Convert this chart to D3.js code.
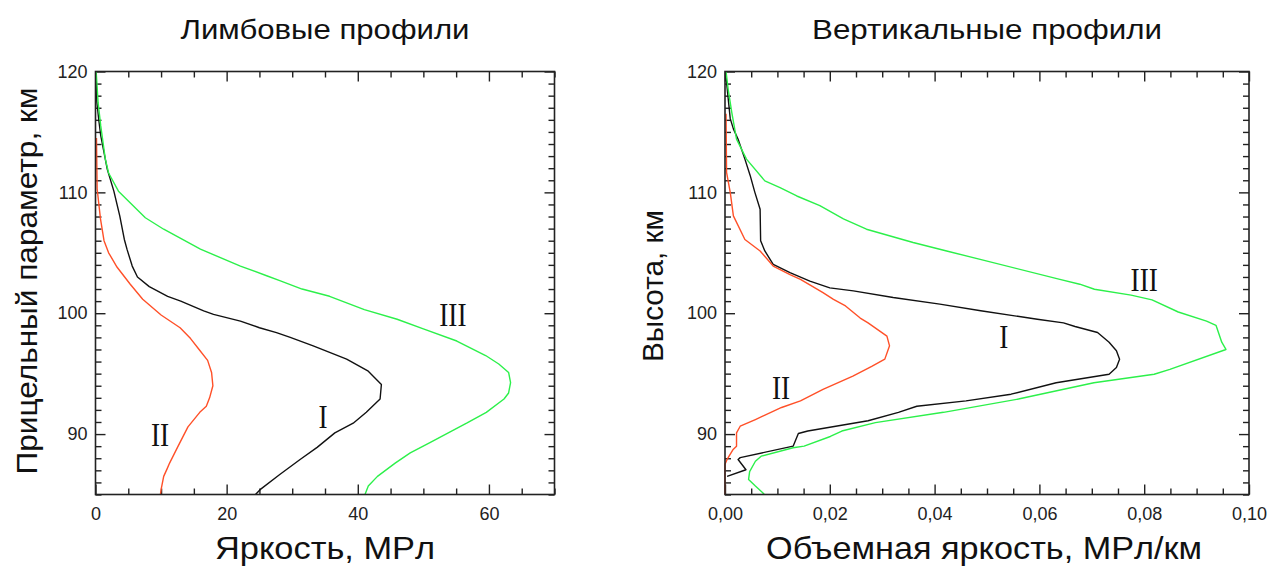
<!DOCTYPE html>
<html><head><meta charset="utf-8">
<script src="https://cdn.jsdelivr.net/npm/d3@7"></script>
<style>
html,body{margin:0;padding:0;background:#fff;}
svg{display:block;}
</style></head><body>
<svg id="chart" width="1270" height="566"></svg>
<script>
// ---------- data ----------
const panelTitles = ["Лимбовые профили", "Вертикальные профили"];
const xAxisTitles = ["Яркость, МРл", "Объемная яркость, МРл/км"];
const yAxisTitles = ["Прицельный параметр, км", "Высота, км"];
const seriesNames = ["I", "II", "III"];

const altDomain = [85, 120];
const altTicks = [90, 100, 110, 120];
const limbDomain = [0, 70];
const limbTicks = [0, 20, 40, 60];
const vertDomain = [0, 0.1];
const vertTicks = [0, 0.02, 0.04, 0.06, 0.08, 0.10];

// limb profiles: [altitude km, brightness MR]
const limbI = [[119.5,0.1],[117.5,0.2],[116.0,0.5],[114.7,0.8],[111.9,1.8],[110.1,2.8],[108.05,3.7],[106.1,4.4],[105.3,4.8],[103.9,5.6],[103.0,6.4],[102.2,8.2],[101.4,11.0],[101.0,13.0],[100.2,16.5],[99.9,18.0],[99.35,22.1],[98.8,25.0],[98.4,27.6],[98.0,29.7],[97.3,33.2],[96.2,38.3],[95.2,41.6],[94.1,43.6],[92.9,43.4],[91.8,41.3],[90.9,39.3],[90.1,36.5],[88.9,33.8],[87.9,31.2],[86.65,28.1],[85.4,25.1],[85.0,24.4]];
const limbII = [[114.5,0.15],[110.3,0.25],[107.8,0.76],[106.0,1.3],[105.0,2.0],[103.8,3.3],[102.4,5.3],[101.15,7.2],[99.85,10.0],[98.8,12.9],[97.9,14.5],[97.0,15.8],[96.1,17.1],[95.1,17.7],[94.0,17.9],[93.0,17.4],[92.3,16.9],[91.8,15.9],[90.6,14.1],[89.0,12.6],[87.6,11.3],[87.1,10.9],[86.5,10.4],[85.4,10.0],[85.0,9.9]];
const limbIII = [[120.0,0.1],[117.4,0.4],[115.5,0.8],[112.75,1.5],[111.6,2.0],[110.1,3.5],[107.9,7.6],[106.95,10.4],[105.3,16.0],[103.9,22.1],[103.1,26.1],[102.7,28.1],[102.0,31.5],[101.4,35.7],[100.3,41.0],[99.5,46.0],[98.7,50.0],[97.7,55.1],[96.5,59.5],[95.8,61.5],[95.1,63.0],[94.25,63.3],[93.4,63.0],[92.9,62.3],[91.8,59.6],[90.9,56.6],[90.25,54.3],[89.3,51.0],[88.45,48.0],[87.6,45.7],[86.5,43.0],[85.7,41.6],[85.0,41.1]];

// vertical profiles: [altitude km, volume brightness MR/km]
const vertI = [[119.5,0.0002],[116.1,0.001],[115.25,0.0016],[114.4,0.0025],[112.75,0.0038],[111.4,0.0048],[110.0,0.0057],[108.6,0.0067],[106.0,0.0068],[105.15,0.0076],[104.05,0.0092],[103.35,0.0124],[102.65,0.0162],[102.1,0.02],[101.85,0.0245],[101.3,0.0321],[100.75,0.041],[100.2,0.0488],[99.5,0.0596],[99.2,0.0646],[98.9,0.0668],[98.4,0.0711],[97.6,0.0733],[96.9,0.0747],[96.2,0.0753],[95.5,0.0747],[94.95,0.0733],[94.25,0.0632],[93.3,0.0546],[92.75,0.046],[92.3,0.0366],[91.8,0.0331],[91.1,0.0273],[90.25,0.0158],[90.05,0.014],[89.0,0.013],[88.05,0.0029],[87.9,0.0025],[87.05,0.004],[86.5,0.0004]];
const vertII = [[116.5,0.0002],[111.65,0.0003],[110.0,0.001],[108.05,0.0016],[106.1,0.0038],[105.15,0.0067],[103.9,0.0092],[103.2,0.0124],[102.8,0.0144],[101.7,0.0187],[101.15,0.0207],[100.6,0.023],[99.6,0.0258],[99.2,0.0273],[98.1,0.0309],[97.3,0.0314],[96.2,0.0305],[95.6,0.028],[94.8,0.0244],[93.7,0.0187],[92.75,0.0144],[92.2,0.0108],[91.2,0.0058],[90.65,0.0029],[90.1,0.0022],[89.0,0.0022],[88.7,0.0015],[87.9,0.0004],[87.5,0.0],[85.0,0.0]];
const vertIII = [[120.0,0.0002],[118.55,0.0006],[116.6,0.0013],[114.4,0.0022],[112.75,0.0041],[110.95,0.0076],[110.4,0.0105],[109.7,0.0137],[108.9,0.0181],[107.8,0.0226],[106.95,0.027],[105.85,0.0359],[105.15,0.0423],[104.45,0.0487],[102.8,0.0639],[102.4,0.0677],[101.98,0.0705],[101.5,0.0775],[101.1,0.0815],[100.1,0.0865],[99.35,0.0919],[99.0,0.0937],[97.6,0.0948],[97.0,0.0956],[95.35,0.0849],[94.95,0.0819],[94.25,0.0704],[92.9,0.056],[91.8,0.0417],[90.95,0.0287],[90.25,0.0223],[89.8,0.0201],[89.0,0.0151],[88.87,0.013],[88.17,0.0069],[87.75,0.0058],[86.9,0.0047],[86.25,0.0045],[85.7,0.0058],[85.15,0.0072],[85.0,0.0075]];

// series label anchors (baseline): [value, altitude]
const limbLabelPos = [[34.7,90.5],[9.85,89.0],[54.5,98.95]];
const vertLabelPos = [[0.0532,97.1],[0.0107,92.9],[0.0800,101.8]];

// ---------- drawing ----------
const svg = d3.select("#chart");
const colors = {I:"#111111", II:"#ff5028", III:"#2cf04a"};
const SANS = "'Liberation Sans', Arial, sans-serif";
const SERIF = "'Liberation Serif', 'Times New Roman', serif";
const plotTop = 71.5, plotBottom = 494.5;
const y = d3.scaleLinear().domain(altDomain).range([plotBottom, plotTop]);

function panel(cfg) {
  const x = cfg.x;
  const [x0, x1] = x.range();
  const g = svg.append("g");
  const tickStyle = sel => {
    sel.select(".domain").remove();
    sel.selectAll("line").attr("stroke", "#222").attr("stroke-width", 1.4);
    sel.selectAll("text").attr("font-family", SANS).attr("font-size", 18).attr("fill", "#222");
  };
  // bottom
  g.append("g").attr("transform", `translate(0,${plotBottom})`)
    .call(d3.axisBottom(x).tickValues(cfg.minor).tickSize(-6).tickFormat("")).call(tickStyle);
  g.append("g").attr("transform", `translate(0,${plotBottom})`)
    .call(d3.axisBottom(x).tickValues(cfg.major).tickSize(-10).tickPadding(13).tickFormat(cfg.fmt)).call(tickStyle);
  // top
  g.append("g").attr("transform", `translate(0,${plotTop})`)
    .call(d3.axisTop(x).tickValues(cfg.minor).tickSize(-6).tickFormat("")).call(tickStyle);
  g.append("g").attr("transform", `translate(0,${plotTop})`)
    .call(d3.axisTop(x).tickValues(cfg.major).tickSize(-10).tickFormat("")).call(tickStyle);
  // left / right
  const yMinor = d3.range(altDomain[0], altDomain[1] + 1).filter(v => !altTicks.includes(v));
  g.append("g").attr("transform", `translate(${x0},0)`)
    .call(d3.axisLeft(y).tickValues(yMinor).tickSize(-6).tickFormat("")).call(tickStyle);
  g.append("g").attr("transform", `translate(${x0},0)`)
    .call(d3.axisLeft(y).tickValues(altTicks).tickSize(-10).tickPadding(8).tickFormat(d3.format("d"))).call(tickStyle);
  g.append("g").attr("transform", `translate(${x1},0)`)
    .call(d3.axisRight(y).tickValues(yMinor).tickSize(-6).tickFormat("")).call(tickStyle);
  g.append("g").attr("transform", `translate(${x1},0)`)
    .call(d3.axisRight(y).tickValues(altTicks).tickSize(-10).tickFormat("")).call(tickStyle);

  // curves
  const line = d3.line().x(d => x(d[1])).y(d => y(d[0]));
  cfg.series.forEach((s, i) => {
    g.append("path").datum(s).attr("d", line)
      .attr("fill", "none").attr("stroke", colors[seriesNames[i]])
      .attr("stroke-width", 1.4).attr("stroke-linejoin", "round");
  });
  // frame
  g.append("rect").attr("x", x0).attr("y", plotTop).attr("width", x1 - x0).attr("height", plotBottom - plotTop)
    .attr("fill", "none").attr("stroke", "#222").attr("stroke-width", 1.6);

  // series labels
  cfg.labels.forEach((p, i) => {
    g.append("text")
      .attr("transform", `translate(${x(p[0])},${y(p[1])}) scale(0.8,1)`)
      .attr("text-anchor", "middle").attr("font-family", SERIF).attr("font-size", 34)
      .attr("fill", "#111").text(seriesNames[i]);
  });

  const cx = (x0 + x1) / 2;
  g.append("text").attr("x", cx).attr("y", 38.5).attr("text-anchor", "middle")
    .attr("font-family", SANS).attr("font-size", 27).attr("fill", "#111")
    .attr("textLength", cfg.titleLen).attr("lengthAdjust", "spacingAndGlyphs")
    .text(cfg.title);
  g.append("text").attr("x", cfg.xTitleX).attr("y", 559).attr("text-anchor", "middle")
    .attr("font-family", SANS).attr("font-size", 32).attr("fill", "#111")
    .attr("textLength", cfg.xTitleLen).attr("lengthAdjust", "spacingAndGlyphs")
    .text(cfg.xTitle);
  g.append("text").attr("transform", `translate(${cfg.yTitleX},${cfg.yTitleY}) rotate(-90)`)
    .attr("text-anchor", "middle")
    .attr("font-family", SANS).attr("font-size", 30).attr("fill", "#111")
    .attr("textLength", cfg.yTitleLen).attr("lengthAdjust", "spacingAndGlyphs")
    .text(cfg.yTitle);
}

const xLimb = d3.scaleLinear().domain(limbDomain).range([95.5, 554.5]);
const xVert = d3.scaleLinear().domain(vertDomain).range([725, 1249]);

panel({
  x: xLimb,
  major: limbTicks,
  minor: d3.range(0, 71, 5).filter(v => !limbTicks.includes(v)),
  fmt: d3.format("d"),
  series: [limbI, limbII, limbIII],
  labels: limbLabelPos,
  title: panelTitles[0], titleLen: 289,
  xTitle: xAxisTitles[0], xTitleX: 325, xTitleLen: 220,
  yTitle: yAxisTitles[0], yTitleX: 37, yTitleY: 281, yTitleLen: 387
});

panel({
  x: xVert,
  major: vertTicks,
  minor: d3.range(0, 21).map(i => i * 0.005).filter((v, i) => i % 4 !== 0),
  fmt: d => d3.format(".2f")(d).replace(".", ","),
  series: [vertI, vertII, vertIII],
  labels: vertLabelPos,
  title: panelTitles[1], titleLen: 350,
  xTitle: xAxisTitles[1], xTitleX: 984, xTitleLen: 436,
  yTitle: yAxisTitles[1], yTitleX: 663, yTitleY: 286, yTitleLen: 152
});
</script>
</body></html>
